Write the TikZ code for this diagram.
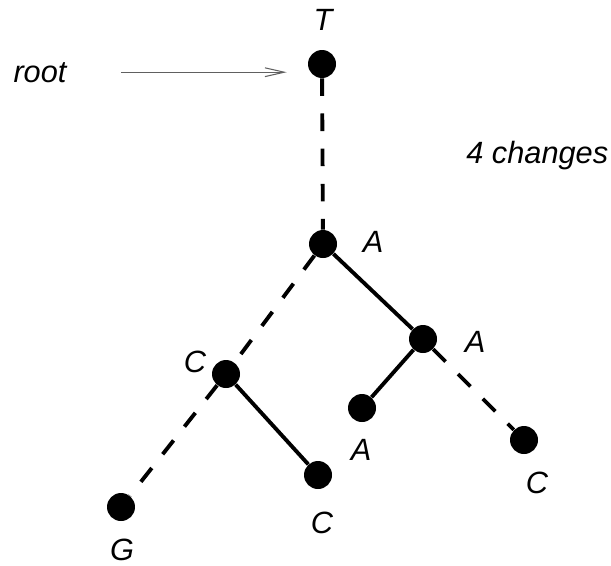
\documentclass[tikz,border=0pt]{standalone}
\usepackage{fontspec}
\setmainfont{Liberation Sans}
\usetikzlibrary{arrows.meta,positioning}

\begin{document}
\begin{tikzpicture}[
  x=0.02cm, y=-0.02cm,
  font=\fontsize{17.5}{20}\selectfont\itshape,
  dot/.style={circle, fill, inner sep=0pt, minimum size=0.56cm},
  lbl/.style={inner sep=0pt},
  br/.style={line width=2.2pt},
  chg/.style={br, dash pattern=on 10pt off 10pt},
  ptr/.style={-{Straight Barb[length=11pt, width=5pt]}, line width=0.6pt, gray!75!black}
]
\useasboundingbox (0,0) rectangle (611,565);

% tree
\node[dot] (t) at (322,64) {};
\node[dot] (a1) at (323,244) {};
\node[dot] (a2) at (423,339) {};
\node[dot] (c1) at (226,374) {};
\node[dot] (a3) at (362,408) {};
\node[dot] (c3) at (524,440) {};
\node[dot] (c2) at (318,475) {};
\node[dot] (g) at (121,507) {};

% states
\node[lbl] (tl) at (323,20) {T};
\node[lbl] (a1l) at (373,242) {A};
\node[lbl] (a2l) at (475,342) {A};
\node[lbl] (c1l) at (195,362) {C};
\node[lbl] (a3l) at (361,450) {A};
\node[lbl] (c3l) at (537,483) {C};
\node[lbl] (c2l) at (322,523) {C};
\node[lbl] (gl) at (122,550) {G};

\node[lbl, anchor=base] (root) at (40,82) {root};
\node[lbl, anchor=base west] (nchg) at (466,163) {4 changes};

% branches, dashed where the state changes
\draw[chg] (t) -- (a1);
\draw[chg] (a1) -- (c1);
\draw[br] (a1) -- (a2);
\draw[chg] (c1) -- (g);
\draw[br] (c1) -- (c2);
\draw[br] (a2) -- (a3);
\draw[chg] (a2) -- (c3);

\draw[ptr, shorten <=1.08cm, shorten >=0.42cm] (root.east) -- (root.east -| t.west);
\end{tikzpicture}
\end{document}
